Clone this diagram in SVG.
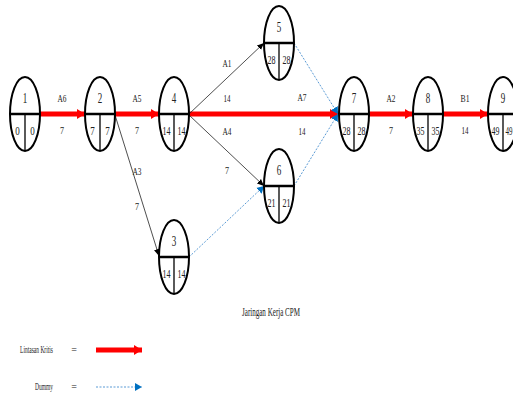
<svg xmlns="http://www.w3.org/2000/svg" width="513" height="396" viewBox="0 0 513 396">
<defs>
<style>
text{font-family:"Liberation Serif","Times New Roman",serif;fill:#222;text-anchor:middle;}
.nn{font-size:14px;}
.nv{font-size:13px;}
.lb{font-size:11px;}
.el{fill:#fff;stroke:#000;stroke-width:2;}
.hl{stroke:#000;stroke-width:2.5;}
.vl{stroke:#000;stroke-width:1.3;}
.crit{stroke:#ff0000;stroke-width:5;fill:none;}
.act{stroke:#222;stroke-width:0.8;fill:none;}
.dum{stroke:#5b9bd5;stroke-width:1;stroke-dasharray:2,1.5;fill:none;}
</style>
<marker id="mr" markerUnits="userSpaceOnUse" markerWidth="10" markerHeight="12" refX="8" refY="6" orient="auto"><path d="M0,1 L8,6 L0,11 Z" fill="#ff0000"/></marker>
<marker id="mk" markerUnits="userSpaceOnUse" markerWidth="8" markerHeight="8" refX="7" refY="4" orient="auto"><path d="M0,1 L7,4 L0,7 Z" fill="#000"/></marker>
<marker id="mb" markerUnits="userSpaceOnUse" markerWidth="8" markerHeight="10" refX="7" refY="5" orient="auto"><path d="M0,1 L7,5 L0,9 Z" fill="#0070c0"/></marker>
</defs>

<g id="connectors">
<line class="crit" x1="40" y1="114" x2="85" y2="114" marker-end="url(#mr)"/>
<line class="crit" x1="115" y1="114" x2="159" y2="114" marker-end="url(#mr)"/>
<line class="crit" x1="188" y1="114" x2="338" y2="114" marker-end="url(#mr)"/>
<line class="crit" x1="369" y1="114" x2="413" y2="114" marker-end="url(#mr)"/>
<line class="crit" x1="443" y1="114" x2="488" y2="114" marker-end="url(#mr)"/>
<line class="act" x1="189" y1="114" x2="264" y2="43" marker-end="url(#mk)"/>
<line class="act" x1="189" y1="115" x2="264" y2="186" marker-end="url(#mk)"/>
<line class="act" x1="115" y1="115" x2="159" y2="256" marker-end="url(#mk)"/>
<line class="dum" x1="294" y1="43" x2="338" y2="114" marker-end="url(#mb)"/>
<line class="dum" x1="294" y1="186" x2="338" y2="114" marker-end="url(#mb)"/>
<line class="dum" x1="189" y1="257" x2="264" y2="186" marker-end="url(#mb)"/>
<text class="lb" x="62" y="102" textLength="9" lengthAdjust="spacingAndGlyphs">A6</text>
<text class="lb" x="62" y="134" textLength="4" lengthAdjust="spacingAndGlyphs">7</text>
<text class="lb" x="137" y="102" textLength="9" lengthAdjust="spacingAndGlyphs">A5</text>
<text class="lb" x="137" y="134" textLength="4" lengthAdjust="spacingAndGlyphs">7</text>
<text class="lb" x="227" y="67" textLength="9" lengthAdjust="spacingAndGlyphs">A1</text>
<text class="lb" x="227" y="102" textLength="7" lengthAdjust="spacingAndGlyphs">14</text>
<text class="lb" x="302" y="101" textLength="9" lengthAdjust="spacingAndGlyphs">A7</text>
<text class="lb" x="302" y="135" textLength="7" lengthAdjust="spacingAndGlyphs">14</text>
<text class="lb" x="227" y="135" textLength="9" lengthAdjust="spacingAndGlyphs">A4</text>
<text class="lb" x="227" y="174" textLength="4" lengthAdjust="spacingAndGlyphs">7</text>
<text class="lb" x="137" y="175" textLength="9" lengthAdjust="spacingAndGlyphs">A3</text>
<text class="lb" x="137" y="210" textLength="4" lengthAdjust="spacingAndGlyphs">7</text>
<text class="lb" x="391" y="102" textLength="9" lengthAdjust="spacingAndGlyphs">A2</text>
<text class="lb" x="391" y="134" textLength="4" lengthAdjust="spacingAndGlyphs">7</text>
<text class="lb" x="465" y="102" textLength="9" lengthAdjust="spacingAndGlyphs">B1</text>
<text class="lb" x="465" y="134" textLength="7" lengthAdjust="spacingAndGlyphs">14</text>
</g>

<g id="node1">
<ellipse class="el" cx="25" cy="114" rx="15" ry="37"/>
<line class="hl" x1="10" y1="114" x2="40" y2="114"/><line class="vl" x1="25" y1="114" x2="25" y2="151"/>
<text class="nn" x="25" y="103" textLength="4.5" lengthAdjust="spacingAndGlyphs">1</text>
<text class="nv" x="17.5" y="135" textLength="4.5" lengthAdjust="spacingAndGlyphs">0</text>
<text class="nv" x="32.5" y="135" textLength="4.5" lengthAdjust="spacingAndGlyphs">0</text>
</g>
<g id="node2">
<ellipse class="el" cx="100" cy="114" rx="15" ry="37"/>
<line class="hl" x1="85" y1="114" x2="115" y2="114"/><line class="vl" x1="100" y1="114" x2="100" y2="151"/>
<text class="nn" x="100" y="103" textLength="4.5" lengthAdjust="spacingAndGlyphs">2</text>
<text class="nv" x="92.5" y="135" textLength="4.5" lengthAdjust="spacingAndGlyphs">7</text>
<text class="nv" x="107.5" y="135" textLength="4.5" lengthAdjust="spacingAndGlyphs">7</text>
</g>
<g id="node4">
<ellipse class="el" cx="174" cy="114" rx="15" ry="37"/>
<line class="hl" x1="159" y1="114" x2="189" y2="114"/><line class="vl" x1="174" y1="114" x2="174" y2="151"/>
<text class="nn" x="174" y="103" textLength="4.5" lengthAdjust="spacingAndGlyphs">4</text>
<text class="nv" x="166.5" y="135" textLength="8" lengthAdjust="spacingAndGlyphs">14</text>
<text class="nv" x="181.5" y="135" textLength="8" lengthAdjust="spacingAndGlyphs">14</text>
</g>
<g id="node5">
<ellipse class="el" cx="279" cy="43" rx="15" ry="37"/>
<line class="hl" x1="264" y1="43" x2="294" y2="43"/><line class="vl" x1="279" y1="43" x2="279" y2="80"/>
<text class="nn" x="279" y="32" textLength="4.5" lengthAdjust="spacingAndGlyphs">5</text>
<text class="nv" x="271.5" y="64" textLength="8" lengthAdjust="spacingAndGlyphs">28</text>
<text class="nv" x="286.5" y="64" textLength="8" lengthAdjust="spacingAndGlyphs">28</text>
</g>
<g id="node6">
<ellipse class="el" cx="279" cy="186" rx="15" ry="37"/>
<line class="hl" x1="264" y1="186" x2="294" y2="186"/><line class="vl" x1="279" y1="186" x2="279" y2="223"/>
<text class="nn" x="279" y="175" textLength="4.5" lengthAdjust="spacingAndGlyphs">6</text>
<text class="nv" x="271.5" y="207" textLength="8" lengthAdjust="spacingAndGlyphs">21</text>
<text class="nv" x="286.5" y="207" textLength="8" lengthAdjust="spacingAndGlyphs">21</text>
</g>
<g id="node3">
<ellipse class="el" cx="174" cy="257" rx="15" ry="37"/>
<line class="hl" x1="159" y1="257" x2="189" y2="257"/><line class="vl" x1="174" y1="257" x2="174" y2="294"/>
<text class="nn" x="174" y="246" textLength="4.5" lengthAdjust="spacingAndGlyphs">3</text>
<text class="nv" x="166.5" y="278" textLength="8" lengthAdjust="spacingAndGlyphs">14</text>
<text class="nv" x="181.5" y="278" textLength="8" lengthAdjust="spacingAndGlyphs">14</text>
</g>
<g id="node7">
<ellipse class="el" cx="354" cy="114" rx="15" ry="37"/>
<line class="hl" x1="339" y1="114" x2="369" y2="114"/><line class="vl" x1="354" y1="114" x2="354" y2="151"/>
<text class="nn" x="354" y="103" textLength="4.5" lengthAdjust="spacingAndGlyphs">7</text>
<text class="nv" x="346.5" y="135" textLength="8" lengthAdjust="spacingAndGlyphs">28</text>
<text class="nv" x="361.5" y="135" textLength="8" lengthAdjust="spacingAndGlyphs">28</text>
</g>
<g id="node8">
<ellipse class="el" cx="428" cy="114" rx="15" ry="37"/>
<line class="hl" x1="413" y1="114" x2="443" y2="114"/><line class="vl" x1="428" y1="114" x2="428" y2="151"/>
<text class="nn" x="428" y="103" textLength="4.5" lengthAdjust="spacingAndGlyphs">8</text>
<text class="nv" x="420.5" y="135" textLength="8" lengthAdjust="spacingAndGlyphs">35</text>
<text class="nv" x="435.5" y="135" textLength="8" lengthAdjust="spacingAndGlyphs">35</text>
</g>
<g id="node9">
<ellipse class="el" cx="503" cy="114" rx="15" ry="37"/>
<line class="hl" x1="488" y1="114" x2="518" y2="114"/><line class="vl" x1="503" y1="114" x2="503" y2="151"/>
<text class="nn" x="503" y="103" textLength="4.5" lengthAdjust="spacingAndGlyphs">9</text>
<text class="nv" x="495.5" y="135" textLength="8" lengthAdjust="spacingAndGlyphs">49</text>
<text class="nv" x="509" y="135" textLength="7" lengthAdjust="spacingAndGlyphs">49</text>
</g>

<g id="title">
<text x="271" y="316" style="font-size:13px" textLength="58" lengthAdjust="spacingAndGlyphs">Jaringan Kerja CPM</text>
</g>
<g id="legend">
<text transform="translate(36.5,353) scale(0.55,1)" style="font-size:10px">Lintasan Kritis</text>
<text x="74" y="353" style="font-size:10px">=</text>
<line class="crit" x1="96" y1="350" x2="142" y2="350" marker-end="url(#mr)"/>
<text transform="translate(44,390) scale(0.55,1)" style="font-size:10px">Dummy</text>
<text x="74" y="390" style="font-size:10px">=</text>
<line class="dum" x1="96" y1="387" x2="142" y2="387" stroke="#0070c0" marker-end="url(#mb)"/>
</g>
</svg>
